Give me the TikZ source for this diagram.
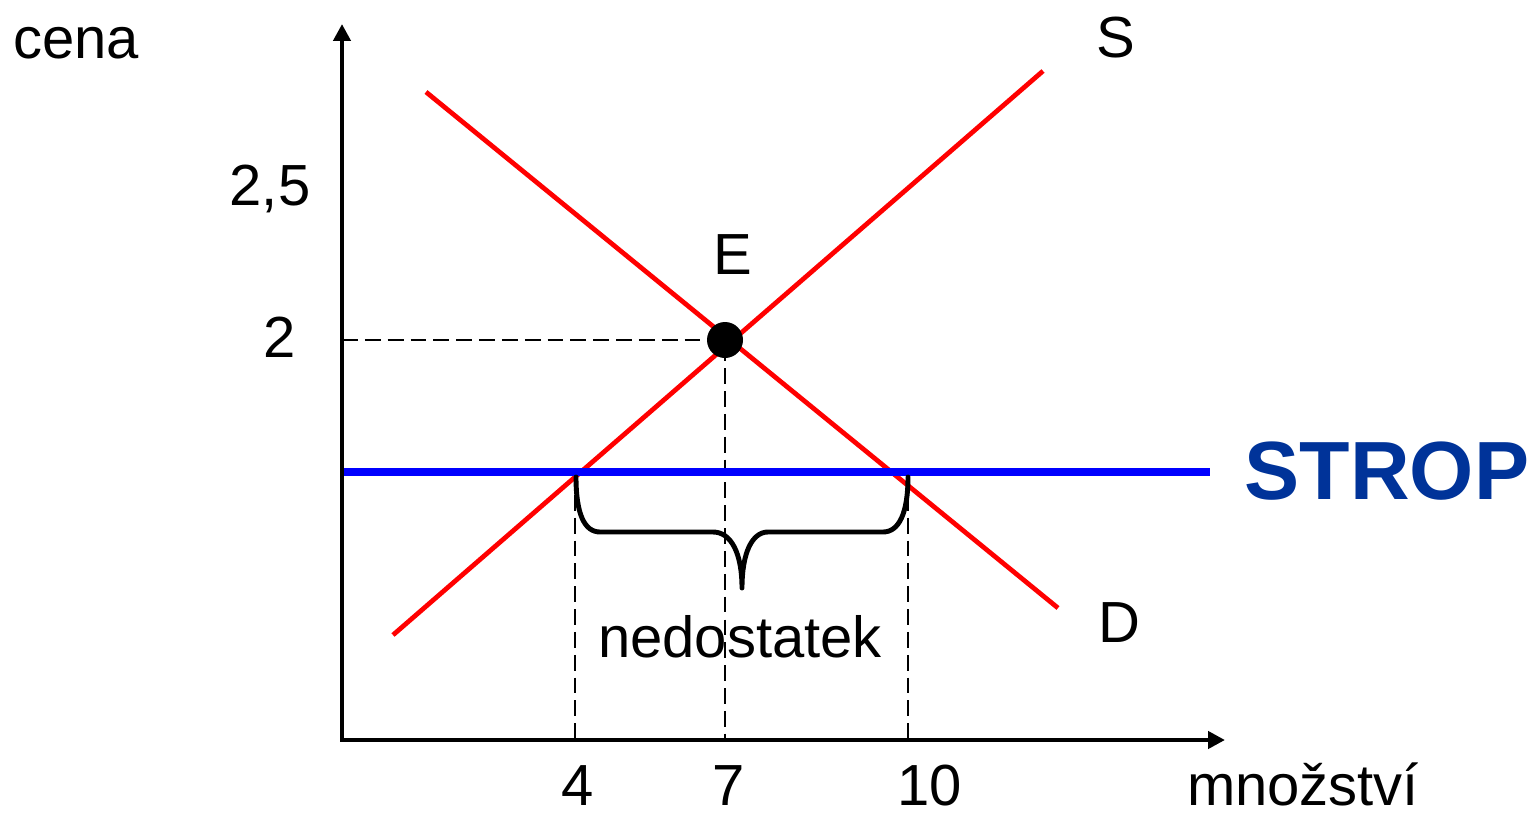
\documentclass[tikz,border=0pt]{standalone}
\usepackage{fontspec}
\setmainfont{Liberation Sans}
\usetikzlibrary{arrows.meta,calc,positioning}
\definecolor{CurveRed}{RGB}{255,0,0}
\definecolor{CeilingBlue}{RGB}{0,0,255}
\definecolor{StropBlue}{RGB}{0,51,153}

\begin{document}
\begin{tikzpicture}[font=\fontsize{16.5}{19}\selectfont,
    lbl/.style={inner sep=0pt, anchor=base},
    guide/.style={dash pattern=on 4.5pt off 2pt, line width=0.7pt},
    curve/.style={CurveRed, line width=1.35pt}]
    \useasboundingbox (0,0) rectangle (15.35,8.13);

    % Key points
    \coordinate (O)    at (3.42,0.73);
    \coordinate (Ytop) at (3.42,7.89);
    \coordinate (Xend) at (12.25,0.73);
    \coordinate (E)    at (7.25,4.73);
    \coordinate (Pe)   at (3.42,4.73);
    \coordinate (Qe)   at (7.25,0.73);

    % Supply and demand
    \coordinate (S0) at (3.93,1.78);
    \coordinate (S1) at (10.43,7.42);
    \coordinate (D0) at (4.26,7.21);
    \coordinate (D1) at (10.58,2.05);

    % Price ceiling
    \coordinate (C0) at (3.42,3.41);
    \coordinate (C1) at (12.10,3.41);
    \coordinate (Qs) at (5.75,3.41);
    \coordinate (Qd) at (9.08,3.41);

    % Dashed guides
    \draw[guide] (Pe) -- (E) -- (Qe);
    \draw[guide] (Qs) -- (Qs |- O);
    \draw[guide] (Qd) -- (Qd |- O);

    % Curves
    \draw[curve] (S0) -- (S1);
    \draw[curve] (D0) -- (D1);

    % Ceiling line
    \draw[CeilingBlue, line width=2.2pt] (C0) -- (C1);

    % Shortage brace
    \draw[line width=1.4pt, line cap=round, line join=round]
        (5.76,3.36) .. controls (5.76,3.00) and (5.84,2.81) .. (6.00,2.81)
        -- (7.13,2.81) .. controls (7.31,2.81) and (7.42,2.60) .. (7.42,2.25)
        .. controls (7.42,2.60) and (7.52,2.81) .. (7.68,2.81)
        -- (8.83,2.81) .. controls (8.99,2.81) and (9.08,3.00) .. (9.08,3.36);

    % Equilibrium point
    \fill (E) circle (0.18);

    % Axes
    \draw[line width=1.4pt, {Triangle[length=4.8pt,width=4.8pt]}-{Triangle[length=4.8pt,width=4.8pt]}]
        (Ytop) -- (O) -- (Xend);

    % Labels
    \node[lbl] (cena)  at (0.76,7.55) {cena};
    \node[lbl] (p25)   at (2.70,6.08) {2,5};
    \node[lbl] (p2)    at (2.795,4.56) {2};
    \node[lbl] (lblE)  at (7.33,5.39) {E};
    \node[lbl] (lblS)  at (11.16,7.56) {S};
    \node[lbl] (lblD)  at (11.19,1.71) {D};
    \node[lbl, font=\fontsize{23.5}{28}\selectfont\bfseries, text=StropBlue] (strop) at (13.87,3.14) {STROP};
    \node[lbl] (short) at (7.40,1.56) {nedostatek};
    \node[lbl] (q4)    at (5.78,0.08) {4};
    \node[lbl] (q7)    at (7.285,0.08) {7};
    \node[lbl] (q10)   at (9.30,0.08) {10};
    \node[lbl] (qty)   at (13.03,0.08) {množství};
\end{tikzpicture}
\end{document}
